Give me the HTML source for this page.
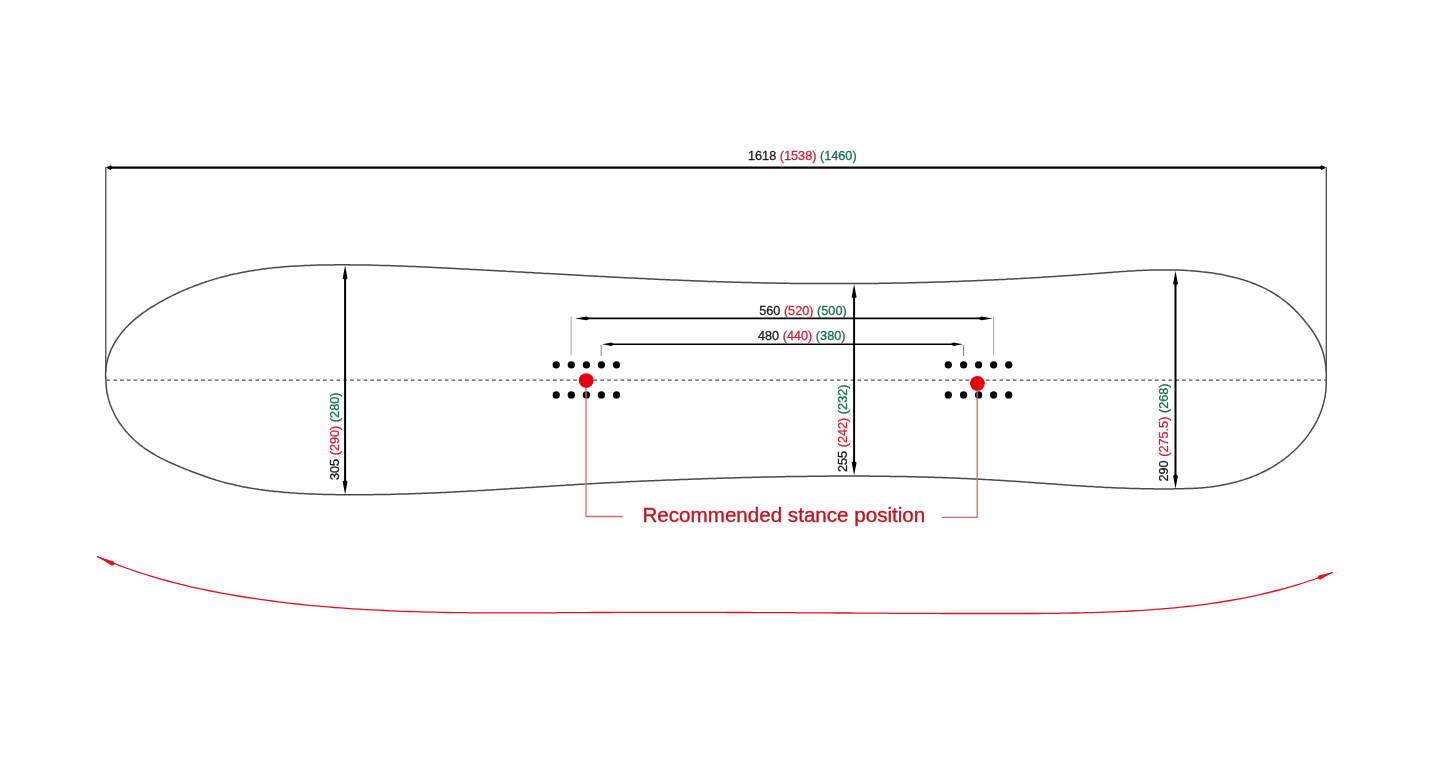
<!DOCTYPE html>
<html><head><meta charset="utf-8"><style>
html,body{margin:0;padding:0;background:#fff;width:1430px;height:768px;overflow:hidden}
svg{display:block;will-change:transform}
text{font-family:"Liberation Sans", sans-serif}
</style></head><body>
<svg width="1430" height="768" viewBox="0 0 1430 768">
<rect width="1430" height="768" fill="#fff"/>
<line x1="105.8" y1="167.3" x2="105.8" y2="372" stroke="#4a4a4a" stroke-width="1.3"/>
<line x1="1326.3" y1="167.3" x2="1326.3" y2="372" stroke="#4a4a4a" stroke-width="1.3"/>
<line x1="110" y1="167.6" x2="1322" y2="167.6" stroke="#000" stroke-width="2.1"/>
<path d="M105.90 167.60 L110.70 165.30 L112.90 167.60 L110.70 169.90 Z" fill="#000"/>
<path d="M1326.30 167.60 L1321.50 169.90 L1319.30 167.60 L1321.50 165.30 Z" fill="#000"/>
<path d="M106.0 380.2L105.8 377.9L105.6 375.7L105.6 373.4L105.7 371.2L105.8 369.0L106.1 366.8L106.4 364.6L106.9 362.4L107.4 360.3L108.0 358.1L108.6 356.0L109.4 353.9L110.2 351.9L111.0 349.8L112.0 347.8L113.0 345.8L114.1 343.9L115.2 341.9L116.4 340.0L117.6 338.2L118.9 336.4L120.2 334.6L121.6 332.8L123.0 331.1L124.4 329.4L125.9 327.8L127.5 326.2L129.0 324.6L130.6 323.1L132.3 321.6L133.9 320.1L135.6 318.7L137.3 317.3L139.1 315.9L140.8 314.6L142.6 313.2L144.4 312.0L146.3 310.7L148.1 309.4L150.0 308.2L151.9 307.0L153.8 305.8L155.7 304.7L157.6 303.6L159.5 302.4L161.5 301.3L163.4 300.3L165.4 299.2L167.3 298.2L169.3 297.1L171.3 296.1L173.3 295.1L175.3 294.2L177.3 293.2L179.3 292.3L181.4 291.4L183.4 290.5L185.4 289.6L187.5 288.7L189.5 287.9L191.6 287.1L193.7 286.3L195.8 285.5L197.8 284.7L199.9 284.0L202.0 283.2L204.1 282.5L206.2 281.8L208.4 281.1L210.5 280.4L212.6 279.8L214.7 279.1L216.9 278.5L219.0 277.9L221.1 277.3L223.3 276.8L225.4 276.2L227.6 275.7L229.8 275.1L231.9 274.6L234.1 274.1L236.3 273.7L238.4 273.2L240.6 272.8L242.8 272.3L245.0 271.9L247.1 271.5L249.3 271.1L251.5 270.8L253.7 270.4L255.9 270.1L258.1 269.8L260.3 269.4L262.5 269.1L264.7 268.9L266.9 268.6L269.1 268.3L271.3 268.1L273.5 267.8L275.7 267.6L277.9 267.4L280.2 267.2L282.4 267.0L284.6 266.8L286.8 266.6L289.0 266.5L291.2 266.3L293.5 266.2L295.7 266.0L297.9 265.9L300.1 265.8L302.3 265.7L304.6 265.6L306.8 265.5L309.0 265.4L311.2 265.3L313.5 265.2L315.7 265.2L317.9 265.1L320.1 265.1L322.4 265.0L324.6 265.0L326.8 264.9L329.0 264.9L331.3 264.9L333.5 264.9L335.7 264.8L337.9 264.8L340.2 264.8L342.4 264.8L344.6 264.8L346.8 264.8L349.1 264.8L351.3 264.9L353.5 264.9L355.7 264.9L358.0 264.9L360.2 264.9L362.4 265.0L364.6 265.0L366.8 265.1L369.1 265.1L371.3 265.1L373.5 265.2L375.7 265.2L378.0 265.3L380.2 265.4L382.4 265.4L384.6 265.5L386.8 265.6L389.1 265.6L391.3 265.7L393.5 265.8L395.7 265.8L397.9 265.9L400.2 266.0L402.4 266.1L404.6 266.2L406.8 266.3L409.0 266.4L411.3 266.5L413.5 266.5L415.7 266.6L417.9 266.7L420.1 266.8L422.4 266.9L424.6 267.0L426.8 267.1L429.0 267.2L431.2 267.3L433.4 267.5L435.7 267.6L437.9 267.7L440.1 267.8L442.3 267.9L444.5 268.0L446.8 268.1L449.0 268.2L451.2 268.3L453.4 268.4L455.6 268.5L457.9 268.7L460.1 268.8L462.3 268.9L464.5 269.0L466.7 269.1L469.0 269.2L471.2 269.4L473.4 269.5L475.6 269.6L477.8 269.7L480.0 269.8L482.3 269.9L484.5 270.1L486.7 270.2L488.9 270.3L491.1 270.4L493.4 270.5L495.6 270.7L497.8 270.8L500.0 270.9L502.2 271.0L504.5 271.1L506.7 271.3L508.9 271.4L511.1 271.5L513.3 271.6L515.6 271.8L517.8 271.9L520.0 272.0L522.2 272.1L524.4 272.2L526.7 272.4L528.9 272.5L531.1 272.6L533.3 272.7L535.5 272.9L537.7 273.0L540.0 273.1L542.2 273.2L544.4 273.4L546.6 273.5L548.8 273.6L551.1 273.7L553.3 273.8L555.5 274.0L557.7 274.1L559.9 274.2L562.2 274.3L564.4 274.5L566.6 274.6L568.8 274.7L571.0 274.8L573.3 275.0L575.5 275.1L577.7 275.2L579.9 275.3L582.1 275.4L584.4 275.6L586.6 275.7L588.8 275.8L591.0 275.9L593.2 276.0L595.5 276.2L597.7 276.3L599.9 276.4L602.1 276.5L604.3 276.6L606.6 276.7L608.8 276.9L611.0 277.0L613.2 277.1L615.4 277.2L617.7 277.3L619.9 277.4L622.1 277.5L624.3 277.7L626.5 277.8L628.8 277.9L631.0 278.0L633.2 278.1L635.4 278.2L637.6 278.3L639.9 278.4L642.1 278.5L644.3 278.6L646.5 278.7L648.7 278.9L651.0 279.0L653.2 279.1L655.4 279.2L657.6 279.3L659.8 279.4L662.1 279.5L664.3 279.6L666.5 279.7L668.7 279.8L671.0 279.9L673.2 280.0L675.4 280.1L677.6 280.1L679.8 280.2L682.1 280.3L684.3 280.4L686.5 280.5L688.7 280.6L690.9 280.7L693.2 280.8L695.4 280.9L697.6 281.0L699.8 281.0L702.0 281.1L704.3 281.2L706.5 281.3L708.7 281.4L710.9 281.4L713.2 281.5L715.4 281.6L717.6 281.7L719.8 281.7L722.0 281.8L724.3 281.9L726.5 282.0L728.7 282.0L730.9 282.1L733.1 282.2L735.4 282.2L737.6 282.3L739.8 282.3L742.0 282.4L744.3 282.5L746.5 282.5L748.7 282.6L750.9 282.6L753.1 282.7L755.4 282.7L757.6 282.8L759.8 282.8L762.0 282.9L764.2 282.9L766.5 283.0L768.7 283.0L770.9 283.1L773.1 283.1L775.4 283.1L777.6 283.2L779.8 283.2L782.0 283.2L784.2 283.3L786.5 283.3L788.7 283.3L790.9 283.4L793.1 283.4L795.4 283.4L797.6 283.5L799.8 283.5L802.0 283.5L804.3 283.5L806.5 283.5L808.7 283.6L810.9 283.6L813.1 283.6L815.4 283.6L817.6 283.6L819.8 283.6L822.0 283.6L824.3 283.6L826.5 283.6L828.7 283.6L830.9 283.6L833.1 283.6L835.4 283.6L837.6 283.6L839.8 283.6L842.0 283.6L844.3 283.6L846.5 283.6L848.7 283.6L850.9 283.6L853.1 283.6L855.4 283.6L857.6 283.6L859.8 283.5L862.0 283.5L864.3 283.5L866.5 283.5L868.7 283.5L870.9 283.4L873.1 283.4L875.4 283.4L877.6 283.4L879.8 283.3L882.0 283.3L884.3 283.3L886.5 283.2L888.7 283.2L890.9 283.2L893.1 283.1L895.4 283.1L897.6 283.0L899.8 283.0L902.0 283.0L904.3 282.9L906.5 282.9L908.7 282.8L910.9 282.8L913.1 282.7L915.4 282.7L917.6 282.6L919.8 282.6L922.0 282.5L924.3 282.4L926.5 282.4L928.7 282.3L930.9 282.3L933.1 282.2L935.4 282.1L937.6 282.1L939.8 282.0L942.0 281.9L944.2 281.9L946.5 281.8L948.7 281.7L950.9 281.6L953.1 281.6L955.4 281.5L957.6 281.4L959.8 281.3L962.0 281.2L964.2 281.1L966.5 281.1L968.7 281.0L970.9 280.9L973.1 280.8L975.3 280.7L977.6 280.6L979.8 280.5L982.0 280.4L984.2 280.3L986.4 280.2L988.7 280.1L990.9 280.0L993.1 279.9L995.3 279.8L997.5 279.7L999.8 279.6L1002.0 279.5L1004.2 279.4L1006.4 279.3L1008.6 279.1L1010.9 279.0L1013.1 278.9L1015.3 278.8L1017.5 278.7L1019.7 278.6L1022.0 278.4L1024.2 278.3L1026.4 278.2L1028.6 278.1L1030.8 277.9L1033.1 277.8L1035.3 277.7L1037.5 277.5L1039.7 277.4L1041.9 277.3L1044.1 277.1L1046.4 277.0L1048.6 276.8L1050.8 276.7L1053.0 276.6L1055.2 276.4L1057.5 276.3L1059.7 276.1L1061.9 276.0L1064.1 275.8L1066.3 275.7L1068.5 275.5L1070.8 275.4L1073.0 275.2L1075.2 275.0L1077.4 274.9L1079.6 274.7L1081.8 274.6L1084.1 274.4L1086.3 274.2L1088.5 274.1L1090.7 273.9L1092.9 273.7L1095.1 273.6L1097.4 273.4L1099.6 273.2L1101.8 273.0L1104.0 272.9L1106.2 272.7L1108.4 272.5L1110.7 272.4L1112.9 272.2L1115.1 272.0L1117.3 271.9L1119.5 271.7L1121.7 271.6L1124.0 271.4L1126.2 271.3L1128.4 271.1L1130.6 271.0L1132.8 270.9L1135.0 270.8L1137.3 270.6L1139.5 270.5L1141.7 270.4L1143.9 270.3L1146.1 270.2L1148.4 270.2L1150.6 270.1L1152.8 270.0L1155.0 270.0L1157.3 269.9L1159.5 269.9L1161.7 269.9L1163.9 269.9L1166.1 269.9L1168.4 269.9L1170.6 269.9L1172.8 269.9L1175.0 270.0L1177.3 270.1L1179.5 270.1L1181.7 270.2L1183.9 270.3L1186.1 270.4L1188.4 270.6L1190.6 270.7L1192.8 270.9L1195.0 271.0L1197.2 271.2L1199.5 271.4L1201.7 271.7L1203.9 271.9L1206.1 272.2L1208.3 272.5L1210.5 272.8L1212.7 273.1L1214.9 273.4L1217.2 273.8L1219.4 274.1L1221.6 274.5L1223.7 275.0L1225.9 275.4L1228.1 275.9L1230.3 276.4L1232.5 276.9L1234.6 277.4L1236.8 278.0L1238.9 278.6L1241.1 279.2L1243.2 279.8L1245.3 280.5L1247.4 281.2L1249.5 281.9L1251.6 282.7L1253.6 283.5L1255.7 284.3L1257.7 285.1L1259.7 286.0L1261.7 286.9L1263.7 287.9L1265.7 288.8L1267.6 289.9L1269.6 290.9L1271.5 292.0L1273.4 293.1L1275.3 294.3L1277.1 295.5L1279.0 296.7L1280.8 298.0L1282.6 299.3L1284.3 300.6L1286.1 302.0L1287.8 303.4L1289.5 304.9L1291.1 306.4L1292.8 307.9L1294.4 309.5L1296.0 311.1L1297.6 312.7L1299.1 314.4L1300.6 316.1L1302.1 317.8L1303.6 319.5L1305.0 321.2L1306.4 323.0L1307.8 324.7L1309.2 326.5L1310.5 328.3L1311.8 330.1L1313.0 331.9L1314.3 333.8L1315.4 335.6L1316.5 337.5L1317.6 339.4L1318.6 341.4L1319.5 343.4L1320.4 345.4L1321.2 347.4L1322.0 349.5L1322.7 351.5L1323.3 353.7L1323.9 355.8L1324.4 357.9L1324.9 360.1L1325.2 362.3L1325.6 364.5L1325.9 366.7L1326.1 368.9L1326.2 371.1L1326.3 373.4L1326.3 375.7L1326.3 377.9L1326.2 380.2L1326.2 382.5L1326.2 384.7L1326.1 387.0L1326.0 389.2L1325.8 391.4L1325.5 393.6L1325.2 395.8L1324.8 398.0L1324.3 400.1L1323.8 402.3L1323.3 404.4L1322.6 406.5L1322.0 408.6L1321.2 410.7L1320.5 412.8L1319.6 414.8L1318.8 416.8L1317.8 418.8L1316.9 420.8L1315.8 422.8L1314.8 424.7L1313.7 426.6L1312.5 428.5L1311.3 430.4L1310.1 432.2L1308.8 434.1L1307.5 435.9L1306.2 437.6L1304.8 439.4L1303.4 441.1L1301.9 442.8L1300.4 444.4L1298.9 446.1L1297.3 447.7L1295.7 449.3L1294.1 450.8L1292.5 452.3L1290.8 453.8L1289.1 455.2L1287.4 456.7L1285.6 458.0L1283.9 459.4L1282.1 460.7L1280.2 462.0L1278.4 463.2L1276.6 464.4L1274.7 465.6L1272.8 466.8L1270.9 467.9L1268.9 469.0L1267.0 470.0L1265.0 471.0L1263.0 472.0L1261.1 472.9L1259.0 473.9L1257.0 474.8L1255.0 475.6L1252.9 476.4L1250.9 477.2L1248.8 478.0L1246.7 478.7L1244.6 479.4L1242.5 480.1L1240.3 480.8L1238.2 481.4L1236.1 482.0L1233.9 482.5L1231.8 483.1L1229.6 483.6L1227.4 484.1L1225.3 484.5L1223.1 484.9L1220.9 485.3L1218.7 485.7L1216.5 486.1L1214.3 486.4L1212.1 486.7L1209.9 487.0L1207.7 487.2L1205.5 487.5L1203.2 487.7L1201.0 487.9L1198.8 488.0L1196.6 488.2L1194.4 488.3L1192.2 488.4L1190.0 488.5L1187.8 488.6L1185.5 488.6L1183.3 488.7L1181.1 488.8L1178.9 488.8L1176.7 488.8L1174.5 488.8L1172.2 488.9L1170.0 488.9L1167.8 488.9L1165.6 488.9L1163.4 488.9L1161.2 488.9L1158.9 488.9L1156.7 488.9L1154.5 488.9L1152.3 488.8L1150.1 488.8L1147.8 488.8L1145.6 488.7L1143.4 488.7L1141.2 488.7L1139.0 488.6L1136.8 488.6L1134.5 488.5L1132.3 488.4L1130.1 488.4L1127.9 488.3L1125.7 488.2L1123.5 488.1L1121.2 488.1L1119.0 488.0L1116.8 487.9L1114.6 487.8L1112.4 487.7L1110.2 487.6L1107.9 487.5L1105.7 487.4L1103.5 487.3L1101.3 487.1L1099.1 487.0L1096.9 486.9L1094.6 486.8L1092.4 486.6L1090.2 486.5L1088.0 486.4L1085.8 486.2L1083.6 486.1L1081.4 486.0L1079.1 485.8L1076.9 485.7L1074.7 485.5L1072.5 485.4L1070.3 485.2L1068.1 485.1L1065.9 484.9L1063.6 484.8L1061.4 484.6L1059.2 484.5L1057.0 484.3L1054.8 484.1L1052.6 484.0L1050.4 483.8L1048.1 483.7L1045.9 483.5L1043.7 483.3L1041.5 483.2L1039.3 483.0L1037.1 482.9L1034.9 482.7L1032.6 482.5L1030.4 482.4L1028.2 482.2L1026.0 482.1L1023.8 481.9L1021.6 481.8L1019.4 481.6L1017.1 481.5L1014.9 481.3L1012.7 481.2L1010.5 481.0L1008.3 480.9L1006.1 480.7L1003.9 480.6L1001.6 480.5L999.4 480.3L997.2 480.2L995.0 480.1L992.8 479.9L990.6 479.8L988.4 479.7L986.1 479.6L983.9 479.4L981.7 479.3L979.5 479.2L977.3 479.1L975.1 479.0L972.8 478.9L970.6 478.8L968.4 478.7L966.2 478.6L964.0 478.5L961.8 478.4L959.6 478.3L957.3 478.2L955.1 478.1L952.9 478.0L950.7 477.9L948.5 477.8L946.3 477.8L944.0 477.7L941.8 477.6L939.6 477.5L937.4 477.5L935.2 477.4L933.0 477.3L930.7 477.2L928.5 477.2L926.3 477.1L924.1 477.1L921.9 477.0L919.7 476.9L917.4 476.9L915.2 476.8L913.0 476.8L910.8 476.7L908.6 476.7L906.3 476.6L904.1 476.6L901.9 476.6L899.7 476.5L897.5 476.5L895.3 476.4L893.0 476.4L890.8 476.4L888.6 476.3L886.4 476.3L884.2 476.3L882.0 476.3L879.7 476.2L877.5 476.2L875.3 476.2L873.1 476.2L870.9 476.2L868.6 476.1L866.4 476.1L864.2 476.1L862.0 476.1L859.8 476.1L857.5 476.1L855.3 476.1L853.1 476.1L850.9 476.1L848.7 476.1L846.5 476.1L844.2 476.1L842.0 476.1L839.8 476.1L837.6 476.1L835.4 476.1L833.1 476.1L830.9 476.1L828.7 476.1L826.5 476.2L824.3 476.2L822.1 476.2L819.8 476.2L817.6 476.2L815.4 476.3L813.2 476.3L811.0 476.3L808.7 476.3L806.5 476.4L804.3 476.4L802.1 476.4L799.9 476.4L797.6 476.5L795.4 476.5L793.2 476.5L791.0 476.6L788.8 476.6L786.5 476.6L784.3 476.7L782.1 476.7L779.9 476.8L777.7 476.8L775.5 476.9L773.2 476.9L771.0 476.9L768.8 477.0L766.6 477.0L764.4 477.1L762.1 477.1L759.9 477.2L757.7 477.2L755.5 477.3L753.3 477.3L751.1 477.4L748.8 477.5L746.6 477.5L744.4 477.6L742.2 477.6L740.0 477.7L737.7 477.8L735.5 477.8L733.3 477.9L731.1 477.9L728.9 478.0L726.6 478.1L724.4 478.1L722.2 478.2L720.0 478.3L717.8 478.3L715.6 478.4L713.3 478.5L711.1 478.5L708.9 478.6L706.7 478.7L704.5 478.8L702.2 478.8L700.0 478.9L697.8 479.0L695.6 479.1L693.4 479.1L691.2 479.2L688.9 479.3L686.7 479.4L684.5 479.5L682.3 479.5L680.1 479.6L677.9 479.7L675.6 479.8L673.4 479.9L671.2 479.9L669.0 480.0L666.8 480.1L664.6 480.2L662.3 480.3L660.1 480.4L657.9 480.5L655.7 480.6L653.5 480.7L651.3 480.7L649.0 480.8L646.8 480.9L644.6 481.0L642.4 481.1L640.2 481.2L638.0 481.3L635.7 481.4L633.5 481.5L631.3 481.6L629.1 481.7L626.9 481.8L624.7 481.9L622.4 482.0L620.2 482.2L618.0 482.3L615.8 482.4L613.6 482.5L611.4 482.6L609.2 482.7L606.9 482.8L604.7 483.0L602.5 483.1L600.3 483.2L598.1 483.3L595.9 483.4L593.7 483.6L591.4 483.7L589.2 483.8L587.0 483.9L584.8 484.1L582.6 484.2L580.4 484.3L578.2 484.5L575.9 484.6L573.7 484.7L571.5 484.9L569.3 485.0L567.1 485.1L564.9 485.3L562.7 485.4L560.5 485.5L558.2 485.7L556.0 485.8L553.8 486.0L551.6 486.1L549.4 486.2L547.2 486.4L545.0 486.5L542.7 486.7L540.5 486.8L538.3 486.9L536.1 487.1L533.9 487.2L531.7 487.4L529.5 487.5L527.3 487.6L525.0 487.8L522.8 487.9L520.6 488.1L518.4 488.2L516.2 488.3L514.0 488.5L511.8 488.6L509.5 488.8L507.3 488.9L505.1 489.0L502.9 489.2L500.7 489.3L498.5 489.4L496.2 489.6L494.0 489.7L491.8 489.9L489.6 490.0L487.4 490.1L485.2 490.2L483.0 490.4L480.7 490.5L478.5 490.6L476.3 490.8L474.1 490.9L471.9 491.0L469.7 491.1L467.4 491.2L465.2 491.4L463.0 491.5L460.8 491.6L458.6 491.7L456.4 491.8L454.1 491.9L451.9 492.1L449.7 492.2L447.5 492.3L445.3 492.4L443.0 492.5L440.8 492.6L438.6 492.7L436.4 492.8L434.2 492.9L432.0 493.0L429.7 493.1L427.5 493.2L425.3 493.2L423.1 493.3L420.9 493.4L418.6 493.5L416.4 493.6L414.2 493.7L412.0 493.7L409.8 493.8L407.6 493.9L405.3 493.9L403.1 494.0L400.9 494.1L398.7 494.1L396.5 494.2L394.2 494.3L392.0 494.3L389.8 494.4L387.6 494.4L385.4 494.5L383.2 494.5L380.9 494.5L378.7 494.6L376.5 494.6L374.3 494.6L372.1 494.7L369.8 494.7L367.6 494.7L365.4 494.7L363.2 494.7L361.0 494.8L358.8 494.8L356.5 494.8L354.3 494.8L352.1 494.8L349.9 494.8L347.7 494.8L345.5 494.7L343.2 494.7L341.0 494.7L338.8 494.7L336.6 494.7L334.4 494.6L332.2 494.6L330.0 494.5L327.7 494.5L325.5 494.4L323.3 494.4L321.1 494.3L318.9 494.3L316.7 494.2L314.4 494.1L312.2 494.0L310.0 493.9L307.8 493.8L305.6 493.7L303.4 493.6L301.2 493.5L298.9 493.4L296.7 493.2L294.5 493.1L292.3 492.9L290.1 492.8L287.9 492.6L285.7 492.4L283.4 492.2L281.2 492.0L279.0 491.8L276.8 491.6L274.6 491.4L272.4 491.1L270.2 490.9L268.0 490.6L265.7 490.4L263.5 490.1L261.3 489.8L259.1 489.5L256.9 489.1L254.7 488.8L252.5 488.4L250.4 488.1L248.2 487.7L246.0 487.3L243.8 486.9L241.6 486.5L239.4 486.0L237.3 485.6L235.1 485.1L233.0 484.6L230.8 484.1L228.7 483.6L226.5 483.0L224.4 482.5L222.2 481.9L220.1 481.3L218.0 480.6L215.9 480.0L213.8 479.3L211.7 478.7L209.6 478.0L207.5 477.2L205.4 476.5L203.3 475.8L201.3 475.0L199.2 474.3L197.1 473.5L195.1 472.7L193.0 472.0L190.9 471.2L188.9 470.4L186.8 469.6L184.8 468.8L182.7 467.9L180.7 467.1L178.6 466.3L176.6 465.4L174.6 464.5L172.5 463.6L170.5 462.7L168.5 461.8L166.5 460.8L164.5 459.9L162.5 458.9L160.5 457.9L158.6 456.8L156.6 455.8L154.7 454.7L152.8 453.5L150.9 452.4L149.0 451.2L147.2 450.0L145.3 448.8L143.5 447.5L141.8 446.1L140.0 444.8L138.3 443.4L136.6 442.0L134.9 440.5L133.3 439.0L131.7 437.4L130.1 435.8L128.6 434.2L127.1 432.6L125.6 430.9L124.2 429.2L122.8 427.4L121.5 425.6L120.2 423.8L119.0 422.0L117.8 420.1L116.6 418.2L115.5 416.3L114.5 414.3L113.5 412.3L112.6 410.3L111.7 408.3L110.9 406.3L110.1 404.2L109.4 402.1L108.8 400.0L108.2 397.9L107.7 395.7L107.2 393.5L106.8 391.4L106.5 389.2L106.3 386.9L106.1 384.7L106.0 382.5L106.0 380.2Z" fill="none" stroke="#4a4a4a" stroke-width="1.5"/>
<line x1="106.6" y1="380.2" x2="1326" y2="380.2" stroke="#4d4d4d" stroke-width="1.3" stroke-dasharray="3.6 3.164"/>
<line x1="345.1" y1="275.6" x2="345.1" y2="484.4" stroke="#000" stroke-width="2"/>
<path d="M345.10 265.60 L347.55 278.60 L345.10 280.10 L342.65 278.60 Z" fill="#000"/>
<path d="M345.10 494.40 L342.65 481.40 L345.10 479.90 L347.55 481.40 Z" fill="#000"/>
<line x1="854.1" y1="294.3" x2="854.1" y2="465.6" stroke="#000" stroke-width="2"/>
<path d="M854.10 284.30 L856.55 297.30 L854.10 298.80 L851.65 297.30 Z" fill="#000"/>
<path d="M854.10 475.60 L851.65 462.60 L854.10 461.10 L856.55 462.60 Z" fill="#000"/>
<line x1="1175.5" y1="280.9" x2="1175.5" y2="478.8" stroke="#000" stroke-width="2"/>
<path d="M1175.50 270.90 L1177.95 283.90 L1175.50 285.40 L1173.05 283.90 Z" fill="#000"/>
<path d="M1175.50 488.80 L1173.05 475.80 L1175.50 474.30 L1177.95 475.80 Z" fill="#000"/>
<line x1="571.1" y1="316.5" x2="571.1" y2="355.5" stroke="#aaa" stroke-width="1.1"/>
<line x1="993.6" y1="316.5" x2="993.6" y2="355.5" stroke="#aaa" stroke-width="1.1"/>
<line x1="601.2" y1="345" x2="601.2" y2="356" stroke="#888" stroke-width="1.1"/>
<line x1="963.5" y1="345" x2="963.5" y2="356" stroke="#888" stroke-width="1.1"/>
<line x1="585" y1="318.4" x2="982" y2="318.4" stroke="#000" stroke-width="1.6"/>
<path d="M575.00 318.40 L586.50 316.50 L590.00 318.40 L586.50 320.30 Z" fill="#000"/>
<path d="M992.80 318.40 L981.30 320.30 L977.80 318.40 L981.30 316.50 Z" fill="#000"/>
<line x1="610" y1="344.3" x2="955" y2="344.3" stroke="#000" stroke-width="1.6"/>
<path d="M602.00 344.30 L611.50 342.50 L614.00 344.30 L611.50 346.10 Z" fill="#000"/>
<path d="M962.80 344.30 L953.30 346.10 L950.80 344.30 L953.30 342.50 Z" fill="#000"/>
<circle cx="556.2" cy="364.8" r="3.65" fill="#000"/>
<circle cx="556.2" cy="394.9" r="3.65" fill="#000"/>
<circle cx="571.3" cy="364.8" r="3.65" fill="#000"/>
<circle cx="571.3" cy="394.9" r="3.65" fill="#000"/>
<circle cx="586.4" cy="364.8" r="3.65" fill="#000"/>
<circle cx="586.4" cy="394.9" r="3.65" fill="#000"/>
<circle cx="601.4" cy="364.8" r="3.65" fill="#000"/>
<circle cx="601.4" cy="394.9" r="3.65" fill="#000"/>
<circle cx="616.5" cy="364.8" r="3.65" fill="#000"/>
<circle cx="616.5" cy="394.9" r="3.65" fill="#000"/>
<circle cx="948.3" cy="364.8" r="3.65" fill="#000"/>
<circle cx="948.3" cy="394.9" r="3.65" fill="#000"/>
<circle cx="963.6" cy="364.8" r="3.65" fill="#000"/>
<circle cx="963.6" cy="394.9" r="3.65" fill="#000"/>
<circle cx="978.6" cy="364.8" r="3.65" fill="#000"/>
<circle cx="978.6" cy="394.9" r="3.65" fill="#000"/>
<circle cx="993.6" cy="364.8" r="3.65" fill="#000"/>
<circle cx="993.6" cy="394.9" r="3.65" fill="#000"/>
<circle cx="1008.7" cy="364.8" r="3.65" fill="#000"/>
<circle cx="1008.7" cy="394.9" r="3.65" fill="#000"/>
<polyline points="586,381 586,516.5 622.5,516.5" fill="none" stroke="#d56a6a" stroke-width="1.3"/>
<polyline points="941.5,517.3 977.2,517.3 977.2,384" fill="none" stroke="#d56a6a" stroke-width="1.3"/>
<circle cx="586.2" cy="380.6" r="7.4" fill="#e6000f"/>
<circle cx="977.4" cy="383.4" r="7.4" fill="#e6000f"/>
<path d="M96.9 556.3L102.7 558.8L108.5 561.2L114.4 563.5L120.2 565.8L126.1 568.0L132.0 570.0L138.0 572.1L143.9 574.0L149.9 575.9L155.9 577.7L161.9 579.4L167.9 581.0L174.0 582.6L180.0 584.2L186.1 585.6L192.2 587.1L198.3 588.4L204.4 589.7L210.5 591.0L216.7 592.2L222.8 593.3L229.0 594.4L235.1 595.5L241.3 596.5L247.5 597.5L253.7 598.4L259.8 599.3L266.0 600.2L272.2 601.0L278.4 601.8L284.6 602.6L290.8 603.3L297.1 604.0L303.3 604.6L309.5 605.3L315.7 605.8L322.0 606.4L328.2 606.9L334.4 607.5L340.7 607.9L346.9 608.4L353.2 608.8L359.4 609.2L365.7 609.6L371.9 609.9L378.2 610.2L384.5 610.5L390.7 610.8L397.0 611.1L403.3 611.3L409.5 611.5L415.8 611.7L422.1 611.9L428.4 612.1L434.6 612.2L440.9 612.4L447.2 612.5L453.5 612.6L459.8 612.7L466.1 612.7L472.4 612.8L478.6 612.8L484.9 612.9L491.2 612.9L497.5 612.9L503.8 612.9L510.1 612.9L516.4 612.9L522.7 612.9L529.0 612.9L535.3 612.9L541.5 612.8L547.8 612.8L554.1 612.8L560.4 612.7L566.7 612.7L573.0 612.7L579.3 612.6L585.5 612.6L591.8 612.5L598.1 612.5L604.4 612.5L610.7 612.5L616.9 612.4L623.2 612.4L629.5 612.4L635.7 612.4L642.0 612.4L648.3 612.4L654.5 612.4L660.8 612.4L667.1 612.4L673.3 612.4L679.6 612.4L685.8 612.4L692.1 612.4L698.4 612.4L704.6 612.4L710.9 612.4L717.1 612.4L723.4 612.4L729.6 612.5L735.9 612.5L742.1 612.5L748.4 612.5L754.6 612.6L760.9 612.6L767.1 612.6L773.4 612.6L779.7 612.7L785.9 612.7L792.2 612.7L798.4 612.8L804.7 612.8L810.9 612.8L817.2 612.9L823.4 612.9L829.7 612.9L835.9 613.0L842.2 613.0L848.4 613.0L854.7 613.1L860.9 613.1L867.2 613.1L873.4 613.2L879.7 613.2L885.9 613.2L892.2 613.3L898.5 613.3L904.7 613.3L911.0 613.3L917.2 613.4L923.5 613.4L929.8 613.4L936.0 613.4L942.3 613.5L948.6 613.5L954.8 613.5L961.1 613.5L967.4 613.5L973.7 613.5L979.9 613.5L986.2 613.5L992.5 613.5L998.8 613.5L1005.1 613.5L1011.3 613.5L1017.6 613.5L1023.9 613.5L1030.2 613.5L1036.5 613.5L1042.8 613.4L1049.1 613.4L1055.4 613.3L1061.7 613.2L1067.9 613.1L1074.2 613.0L1080.5 612.9L1086.8 612.7L1093.1 612.6L1099.4 612.4L1105.6 612.1L1111.9 611.9L1118.2 611.6L1124.5 611.3L1130.7 611.0L1137.0 610.6L1143.3 610.3L1149.5 609.8L1155.8 609.4L1162.0 608.9L1168.3 608.4L1174.5 607.8L1180.7 607.2L1186.9 606.5L1193.2 605.8L1199.4 605.1L1205.6 604.3L1211.7 603.4L1217.9 602.5L1224.1 601.5L1230.2 600.5L1236.4 599.4L1242.5 598.3L1248.6 597.1L1254.7 595.8L1260.8 594.4L1266.9 593.0L1273.0 591.5L1279.0 590.0L1285.1 588.4L1291.1 586.6L1297.1 584.8L1303.1 583.0L1309.0 581.0L1315.0 579.0L1320.9 576.8L1326.8 574.6L1332.7 572.3" fill="none" stroke="#e0101e" stroke-width="1.3"/>
<path d="M96.90 556.30 L113.77 561.48 L114.64 564.40 L111.86 565.66 Z" fill="#e0101e"/>
<path d="M1332.90 572.20 L1320.25 579.66 L1317.55 578.25 L1318.57 575.38 Z" fill="#e0101e"/>
<text x="748" y="159.6" font-size="12.7" fill="#1a1a1a" stroke="#1a1a1a" stroke-width="0.3">1618 <tspan fill="#cf2236" stroke="#cf2236">(1538)</tspan> <tspan fill="#17704a" stroke="#17704a">(1460)</tspan></text>
<text x="759.2" y="314.8" font-size="12.7" fill="#1a1a1a" stroke="#1a1a1a" stroke-width="0.3">560 <tspan fill="#cf2236" stroke="#cf2236">(520)</tspan> <tspan fill="#17704a" stroke="#17704a">(500)</tspan></text>
<text x="758" y="340" font-size="12.7" fill="#1a1a1a" stroke="#1a1a1a" stroke-width="0.3">480 <tspan fill="#cf2236" stroke="#cf2236">(440)</tspan> <tspan fill="#17704a" stroke="#17704a">(380)</tspan></text>
<text transform="translate(339.1 480) rotate(-90)" font-size="12.7" fill="#1a1a1a" stroke="#1a1a1a" stroke-width="0.3">305 <tspan fill="#cf2236" stroke="#cf2236">(290)</tspan> <tspan fill="#17704a" stroke="#17704a">(280)</tspan></text>
<text transform="translate(846.5 472) rotate(-90)" font-size="12.7" fill="#1a1a1a" stroke="#1a1a1a" stroke-width="0.3">255 <tspan fill="#cf2236" stroke="#cf2236">(242)</tspan> <tspan fill="#17704a" stroke="#17704a">(232)</tspan></text>
<text transform="translate(1168.3 481.5) rotate(-90)" font-size="12.7" fill="#1a1a1a" stroke="#1a1a1a" stroke-width="0.3">290 <tspan fill="#cf2236" stroke="#cf2236">(275.5)</tspan> <tspan fill="#17704a" stroke="#17704a">(268)</tspan></text>
<text x="642.5" y="521.5" font-size="20.6" fill="#c8101e" stroke="#c8101e" stroke-width="0.35">Recommended stance position</text>
</svg></body></html>
